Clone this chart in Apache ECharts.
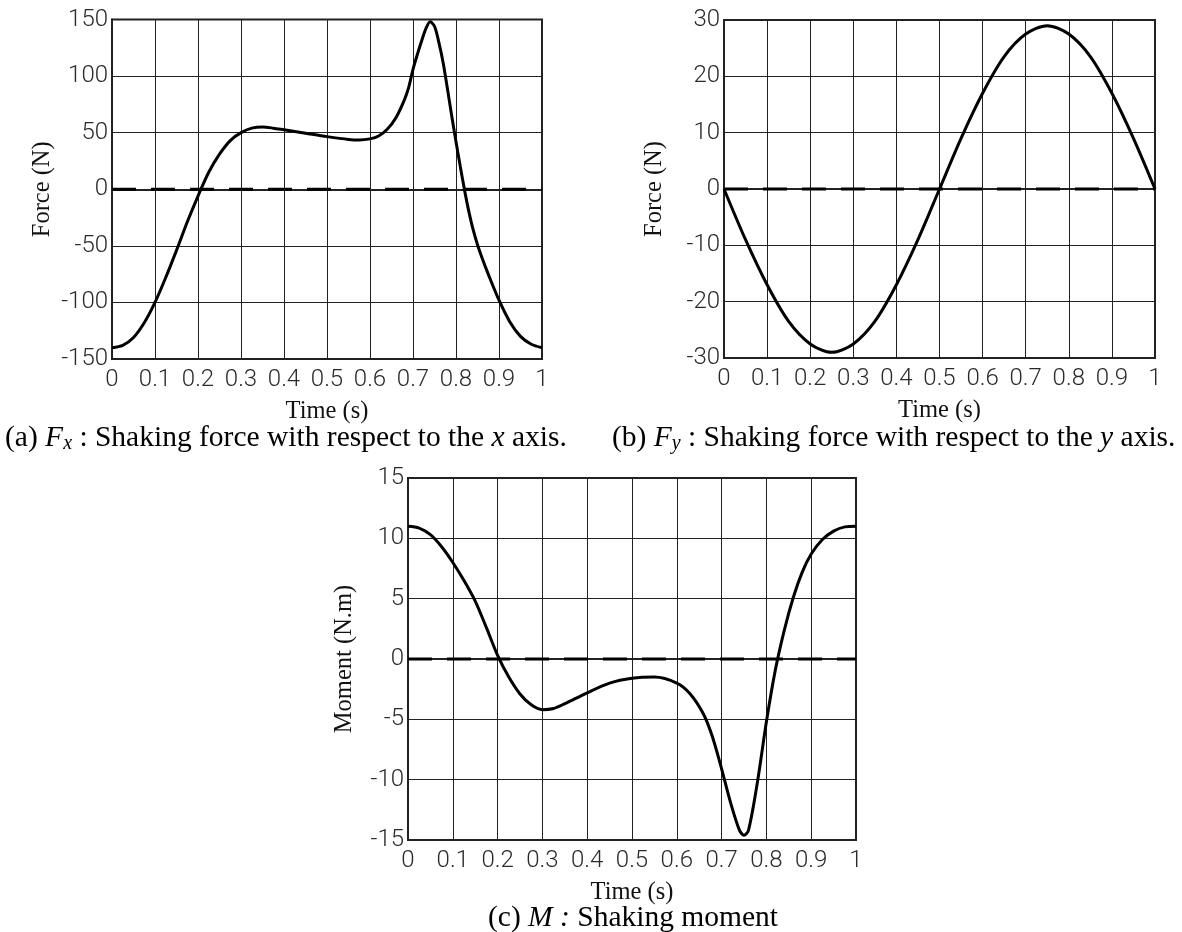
<!DOCTYPE html>
<html>
<head>
<meta charset="utf-8">
<script src="https://cdn.jsdelivr.net/npm/echarts@6/dist/echarts.min.js"></script>
<style>
html,body{margin:0;padding:0;background:#fff;}
#c{width:1182px;height:932px;}
</style>
</head>
<body>
<div id="c"></div>
<script>
// ---- tick labels ----
const xTickLabels = ['0','0.1','0.2','0.3','0.4','0.5','0.6','0.7','0.8','0.9','1'];
const fxTickLabels = ['-150','-100','-50','0','50','100','150'];
const fyTickLabels = ['-30','-20','-10','0','10','20','30'];
const mTickLabels = ['-15','-10','-5','0','5','10','15'];

// ---- (a) Fx ----
const fxTime   = [0,0.025,0.05,0.075,0.1,0.125,0.15,0.175,0.2,0.225,0.25,0.275,0.3,0.325,0.35,0.375,0.4,0.45,0.5,0.55,0.575,0.6,0.62,0.64,0.66,0.68,0.69,0.7,0.71,0.72,0.73,0.74,0.75,0.76,0.77,0.78,0.79,0.8,0.81,0.82,0.83,0.84,0.85,0.86,0.875,0.9,0.925,0.95,0.975,1];
const fxValues = [-140,-138,-131,-118,-100,-78,-54,-29,-6,15,31,43,50,54,55,54,52.5,49.5,46.5,44,43.5,44.5,47,53,63,79,90,106,119,131,142,148,144,130,112,89,65,42,20,-1,-20,-36,-49,-60,-75,-98,-117,-130,-137,-140];

// ---- (b) Fy ----
const fyTime   = [0,0.05,0.1,0.15,0.2,0.25,0.3,0.35,0.4,0.45,0.5,0.55,0.6,0.65,0.7,0.75,0.8,0.85,0.9,0.95,1];
const fyValues = [0,-9,-17,-23.5,-27.5,-29,-27.5,-23.5,-17,-9,0,9,17,23.5,27.5,29,27.5,23.5,17,9,0];

// ---- (c) M ----
const mTime   = [0,0.025,0.05,0.075,0.1,0.125,0.15,0.175,0.2,0.225,0.25,0.275,0.3,0.325,0.35,0.4,0.45,0.5,0.55,0.6,0.63,0.66,0.68,0.7,0.72,0.74,0.75,0.76,0.78,0.8,0.82,0.84,0.86,0.88,0.9,0.925,0.95,0.975,1];
const mValues = [11,10.85,10.3,9.3,8,6.5,4.8,2.6,0.3,-1.5,-2.9,-3.8,-4.2,-4.1,-3.7,-2.8,-2.0,-1.6,-1.5,-2.0,-2.9,-4.6,-6.5,-9.1,-11.9,-14.2,-14.6,-14.2,-10.2,-5.2,-0.9,2.4,5.1,7.2,8.7,9.9,10.6,10.95,11];

const zeroLine = [[0,0],[1,0]];

function zip(t, v){ return t.map((x,i)=>[x, v[i]]); }

const tickFont = {fontFamily:'Roboto, "Liberation Sans", sans-serif', fontWeight:300, fontSize:24, color:'#2a2a2a'};
const nameFont = {fontFamily:'"Liberation Serif", serif', fontSize:24.5, color:'#111'};

const grids = [
  {left:112, top:19.5, width:430, height:339.5},
  {left:724, top:20, width:431, height:338},
  {left:408, top:478, width:448, height:362}
];

function xAxisDef(idx){
  return {
    type:'value', gridIndex:idx, min:0, max:1, interval:0.1,
    name:'Time (s)', nameLocation:'middle', nameGap:40, nameTextStyle:nameFont,
    axisLine:{show:true, lineStyle:{color:'#222', width:2}},
    axisTick:{show:false},
    splitLine:{show:true, lineStyle:{color:'#222', width:1}},
    axisLabel:Object.assign({margin:9, formatter:(v)=>xTickLabels[Math.round(v*10)]}, tickFont)
  };
}
function yAxisDef(idx, min, max, interval, labels, name, gap){
  return {
    type:'value', gridIndex:idx, min:min, max:max, interval:interval,
    name:name, nameLocation:'middle', nameGap:gap, nameTextStyle:nameFont,
    axisLine:{show:true, lineStyle:{color:'#222', width:2}},
    axisTick:{show:false},
    splitLine:{show:true, lineStyle:{color:'#222', width:1}},
    axisLabel:Object.assign({margin:4, padding:[0,0,10,0],
      formatter:(v)=>labels[Math.round((v-min)/interval)]}, tickFont)
  };
}

function curve(idx, data){
  return {type:'line', xAxisIndex:idx, yAxisIndex:idx, data:data, smooth:0.3, showSymbol:false,
    lineStyle:{color:'#000', width:3}, z:5, silent:true};
}
function dashed(idx){
  return {type:'line', xAxisIndex:idx, yAxisIndex:idx, data:zeroLine, showSymbol:false,
    lineStyle:{color:'#000', width:3, type:[24,15]}, z:4, silent:true};
}

const capFont = '"Liberation Serif", serif';
const capRich = {
  n:{fontFamily:capFont, fontSize:29.5, color:'#000'},
  i:{fontFamily:capFont, fontSize:29.5, fontStyle:'italic', color:'#000'},
  s:{fontFamily:capFont, fontSize:20, fontStyle:'italic', color:'#000', padding:[12,0,0,0]}
};

const option = {
  backgroundColor:'#fff',
  animation:false,
  grid: grids.map(g=>Object.assign({show:true, borderColor:'#222', borderWidth:2, containLabel:false}, g)),
  xAxis:[xAxisDef(0), xAxisDef(1), xAxisDef(2)],
  yAxis:[
    yAxisDef(0,-150,150,50,fxTickLabels,'Force (N)',57),
    yAxisDef(1,-30,30,10,fyTickLabels,'Force (N)',57),
    yAxisDef(2,-15,15,5,mTickLabels,'Moment (N.m)',51)
  ],
  series:[
    dashed(0), curve(0, zip(fxTime, fxValues)),
    dashed(1), curve(1, zip(fyTime, fyValues)),
    dashed(2), curve(2, zip(mTime, mValues))
  ],
  graphic:[
    {type:'text', left:5, top:423, style:{text:'{n|(a) }{i|F}{s|x}{n| : Shaking force with respect to the }{i|x}{n| axis.}', rich:capRich}},
    {type:'text', left:612, top:423, style:{text:'{n|(b) }{i|F}{s|y}{n| : Shaking force with respect to the }{i|y}{n| axis.}', rich:capRich}},
    {type:'text', left:488, top:903, style:{text:'{n|(c) }{i|M :}{n| Shaking moment}', rich:capRich}}
  ]
};

const chart = echarts.init(document.getElementById('c'));
chart.setOption(option);
</script>
</body>
</html>
